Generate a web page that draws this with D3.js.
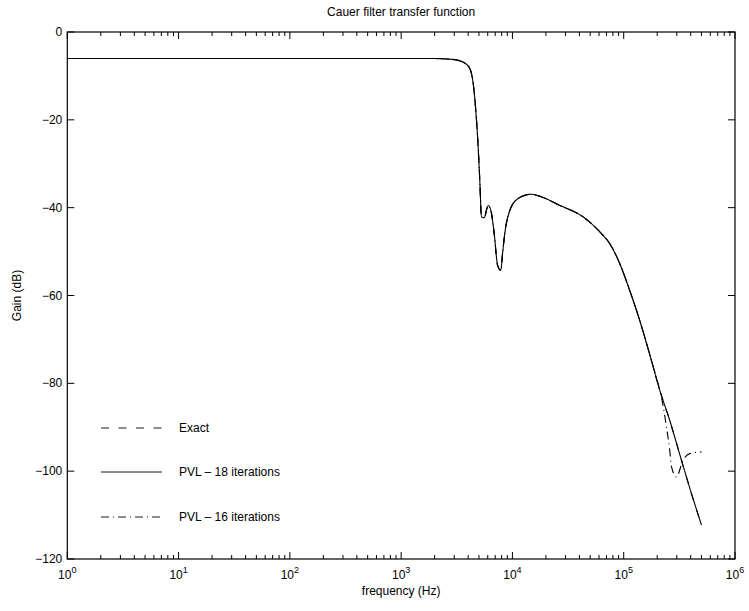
<!DOCTYPE html>
<html>
<head>
<meta charset="utf-8">
<script src="https://cdn.jsdelivr.net/npm/d3@7"></script>
<style>
  body { margin: 0; background: #fff; }
  text { font-family: "Liberation Sans", Arial, Helvetica, sans-serif; fill: #000; }
</style>
</head>
<body>
<div id="chart"></div>
<script>
// frequency samples (Hz) and gain (dB)
const freqExact = [1, 10, 100, 1000, 2000, 3030, 3730, 4140, 4440, 4660, 4920, 5090, 5270, 5570,
    6050, 6400, 6860, 7350, 7870, 8150, 8530, 9480, 11250, 14800, 17600, 26700, 43200,
    61000, 75000, 92000, 113000, 139000, 177000, 211000, 259000, 330000, 406000, 500000];
const gainExact = [-6.02, -6.02, -6.02, -6.02, -6.05, -6.3, -7.06, -8.3, -11.7, -17.1, -26.2, -33.8, -42.1, -42.3,
    -39.5, -40.6, -45.9, -53.1, -54.3, -50.5, -45.9, -40.6, -37.9, -36.95, -37.4, -39.5, -42.1,
    -45.5, -48.2, -52.7, -58.8, -65.6, -74.7, -81.6, -88.4, -97.5, -105.1, -112.3];

// PVL 18 iterations sits on top of the exact curve
const freqPvl18 = freqExact.slice();
const gainPvl18 = gainExact.slice();

// PVL 16 iterations: same up to ~2.1e5 Hz, then breaks away
const freqPvl16 = freqExact.slice(0, 34).concat([218000, 242000, 259000, 269000, 298000, 341000, 392000, 500000]);
const gainPvl16 = gainExact.slice(0, 34).concat([-83.1, -89.9, -95.2, -99.0, -101.3, -97.5, -96.0, -95.6]);

const yTicks = [0, -20, -40, -60, -80, -100, -120];
const xDecades = [0, 1, 2, 3, 4, 5, 6];
const legendLabels = ["Exact", "PVL \u2013 18 iterations", "PVL \u2013 16 iterations"];

const width = 749, height = 611;
const margin = {left: 67.3, right: 14, top: 32, bottom: 52};

const svg = d3.select("#chart")
    .append("svg")
    .attr("width", width)
    .attr("height", height);

const x = d3.scaleLog()
    .domain([1, 1e6])
    .range([margin.left, width - margin.right]);

const y = d3.scaleLinear()
    .domain([-120, 0])
    .range([height - margin.bottom, margin.top]);

// axes box
svg.append("rect")
    .attr("x", x(1))
    .attr("y", y(0))
    .attr("width", x(1e6) - x(1))
    .attr("height", y(-120) - y(0))
    .attr("fill", "none")
    .attr("stroke", "#000")
    .attr("stroke-width", 1.2);

// x ticks (major and minor), inside, bottom and top
const minorX = [];
for (let d = 0; d < 6; d++) {
    for (let m = 2; m <= 9; m++) minorX.push(m * Math.pow(10, d));
}
const tickG = svg.append("g").attr("stroke", "#000").attr("stroke-width", 1);
xDecades.forEach((d) => {
    const px = x(Math.pow(10, d));
    tickG.append("line").attr("x1", px).attr("x2", px).attr("y1", y(-120)).attr("y2", y(-120) - 7);
    tickG.append("line").attr("x1", px).attr("x2", px).attr("y1", y(0)).attr("y2", y(0) + 7);
});
minorX.forEach((v) => {
    const px = x(v);
    tickG.append("line").attr("x1", px).attr("x2", px).attr("y1", y(-120)).attr("y2", y(-120) - 4);
    tickG.append("line").attr("x1", px).attr("x2", px).attr("y1", y(0)).attr("y2", y(0) + 4);
});
yTicks.forEach((t) => {
    tickG.append("line").attr("x1", x(1)).attr("x2", x(1) + 7).attr("y1", y(t)).attr("y2", y(t));
    tickG.append("line").attr("x1", x(1e6)).attr("x2", x(1e6) - 7).attr("y1", y(t)).attr("y2", y(t));
});

// x tick labels as 10^n
xDecades.forEach((d) => {
    const t = svg.append("text")
        .attr("x", x(Math.pow(10, d)))
        .attr("y", y(-120) + 20)
        .attr("text-anchor", "middle")
        .attr("font-size", 12);
    t.append("tspan").text("10");
    t.append("tspan").attr("dy", -6).attr("font-size", 9).text(d);
});

// y tick labels
yTicks.forEach((t) => {
    svg.append("text")
        .attr("x", x(1) - 5)
        .attr("y", y(t) + 4)
        .attr("text-anchor", "end")
        .attr("font-size", 12)
        .text(t === 0 ? "0" : "\u2212" + Math.abs(t));
});

// title and axis labels
svg.append("text")
    .attr("x", (x(1) + x(1e6)) / 2)
    .attr("y", 16)
    .attr("text-anchor", "middle")
    .attr("font-size", 12)
    .text("Cauer filter transfer function");

svg.append("text")
    .attr("x", (x(1) + x(1e6)) / 2)
    .attr("y", y(-120) + 36)
    .attr("text-anchor", "middle")
    .attr("font-size", 12)
    .text("frequency (Hz)");

svg.append("text")
    .attr("transform", "translate(21," + ((y(0) + y(-120)) / 2) + ") rotate(-90)")
    .attr("text-anchor", "middle")
    .attr("font-size", 12)
    .text("Gain (dB)");

// curves
const line = d3.line()
    .x((d) => x(d[0]))
    .y((d) => y(d[1]))
    .curve(d3.curveMonotoneX);

const series = [
    {f: freqExact, g: gainExact, dash: "8,9.5"},
    {f: freqPvl18, g: gainPvl18, dash: null},
    {f: freqPvl16, g: gainPvl16, dash: "8,4,1,4"}
];

const plot = svg.append("g");
series.forEach((s) => {
    plot.append("path")
        .datum(d3.zip(s.f, s.g))
        .attr("d", line)
        .attr("fill", "none")
        .attr("stroke", "#000")
        .attr("stroke-width", 1.1)
        .attr("stroke-dasharray", s.dash);
});

// legend
const legendY = [428, 472, 517];
series.forEach((s, i) => {
    svg.append("line")
        .attr("x1", 101).attr("x2", 162)
        .attr("y1", legendY[i]).attr("y2", legendY[i])
        .attr("stroke", "#000")
        .attr("stroke-width", 0.9)
        .attr("stroke-dasharray", s.dash);
    svg.append("text")
        .attr("x", 179)
        .attr("y", legendY[i] + 4)
        .attr("font-size", 12)
        .text(legendLabels[i]);
});
</script>
</body>
</html>
